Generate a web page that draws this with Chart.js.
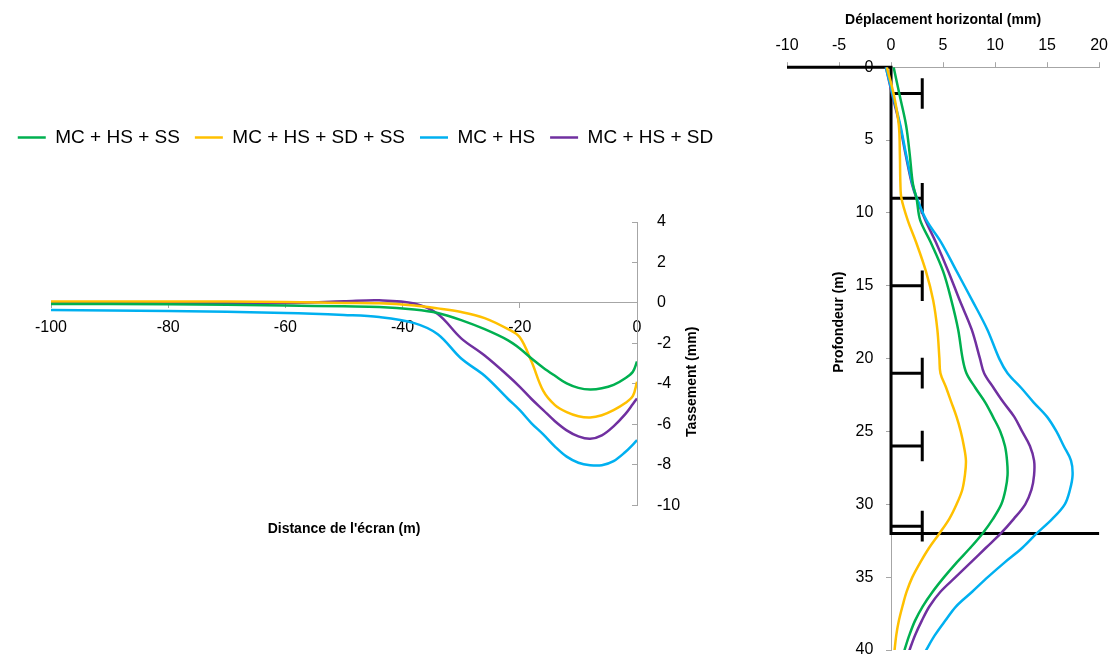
<!DOCTYPE html>
<html>
<head>
<meta charset="utf-8">
<script src="https://cdn.jsdelivr.net/npm/chart.js@4.4.0/dist/chart.umd.min.js"></script>
<style>
  body { margin: 0; background: #fff; width: 1115px; height: 657px; overflow: hidden; position: relative; }
  #settle { position: absolute; left: 0; top: 100px; }
  #disp { position: absolute; left: 740px; top: 0; }
</style>
</head>
<body>
<canvas id="settle" width="731" height="460"></canvas>
<canvas id="disp" width="375" height="657"></canvas>
<script>
'use strict';

Chart.defaults.font.family = '"Liberation Sans", Arial, sans-serif';
Chart.defaults.color = '#000';

let seriesNames = ['MC + HS + SS', 'MC + HS + SD + SS', 'MC + HS', 'MC + HS + SD'];
let seriesColors = ['#00B050', '#FFC000', '#00B0F0', '#7030A0'];
let axisColor = '#a6a6a6';

// settlement behind the wall (left chart)
let distance   = [-100, -80, -60, -50, -44, -38, -34, -30, -26, -22, -20, -18, -16, -14, -12, -10, -8, -6, -4, -2, -0.7, 0];
let settleSS   = [-0.05, -0.07, -0.13, -0.17, -0.2, -0.33, -0.5, -0.85, -1.3, -1.85, -2.25, -2.75, -3.2, -3.6, -3.98, -4.2, -4.28, -4.22, -4.05, -3.72, -3.4, -2.9];
let settleSDSS = [0.07, 0.07, 0.05, 0.0, -0.02, -0.13, -0.27, -0.45, -0.75, -1.3, -1.7, -2.9, -4.35, -5.05, -5.4, -5.6, -5.66, -5.55, -5.3, -4.95, -4.6, -3.9];
let settleHS   = [-0.35, -0.4, -0.5, -0.6, -0.7, -1.0, -1.55, -2.75, -3.6, -4.75, -5.3, -5.95, -6.5, -7.1, -7.6, -7.9, -8.02, -8.02, -7.82, -7.37, -7.0, -6.78];
let settleSD   = [-0.03, -0.02, 0.0, 0.08, 0.13, -0.03, -0.55, -1.75, -2.6, -3.6, -4.15, -4.75, -5.3, -5.85, -6.3, -6.6, -6.72, -6.55, -6.1, -5.5, -5.0, -4.72];

// horizontal displacement of the wall (right chart)
let depth    = [0, 2, 4, 6, 8, 9, 10.5, 12, 14, 16, 18, 20, 21, 22, 23, 24, 25, 26, 27, 28, 29, 30, 31, 32, 33, 34, 35, 36, 37, 38, 39, 40, 41];
let dispSS   = [0.25, 0.85, 1.45, 1.8, 2.1, 2.45, 2.8, 3.8, 5.0, 5.8, 6.45, 6.88, 7.25, 8.1, 9.05, 9.8, 10.5, 10.95, 11.15, 11.2, 11.0, 10.6, 9.8, 8.8, 7.6, 6.3, 5.1, 4.0, 3.05, 2.3, 1.75, 1.3, 0.9];
let dispSDSS = [-0.4, 0.3, 0.75, 0.85, 0.9, 1.0, 1.6, 2.4, 3.35, 4.05, 4.45, 4.65, 4.75, 5.3, 5.8, 6.3, 6.7, 7.0, 7.2, 7.1, 6.85, 6.3, 5.6, 4.65, 3.65, 2.8, 2.05, 1.5, 1.1, 0.75, 0.5, 0.34, 0.2];
let dispHS   = [-0.5, 0.2, 0.9, 1.45, 2.05, 2.5, 3.4, 4.8, 6.3, 7.8, 9.25, 10.4, 11.2, 12.5, 13.7, 15.0, 15.9, 16.6, 17.3, 17.45, 17.2, 16.7, 15.5, 14.0, 12.6, 10.9, 9.3, 7.8, 6.26, 5.2, 4.2, 3.38, 2.6];
let dispSD   = [-0.5, 0.15, 0.85, 1.4, 2.0, 2.45, 3.3, 4.3, 5.5, 6.6, 7.75, 8.55, 8.95, 9.85, 10.8, 11.85, 12.6, 13.35, 13.75, 13.75, 13.5, 12.9, 11.8, 10.55, 9.1, 7.65, 6.2, 4.75, 3.7, 2.95, 2.3, 1.78, 1.3];

// wall, ground surface, excavation bottom and struts
let groundLeft = -10;
let wallBase = 32;
let excavationRight = 20;
let strutDepths = [1.8, 9, 15, 21, 26, 31.5];
let strutLength = 3;
let capHalf = 1.05;

let xTitleLeft = "Distance de l'écran (m)";
let yTitleLeft = 'Tassement (mm)';
let xTitleRight = 'Déplacement horizontal (mm)';
let yTitleRight = 'Profondeur (m)';

function curve(xs, ys, i) {
    return {
        label: seriesNames[i],
        data: xs.map((v, k) => ({ x: v, y: ys[k] })),
        borderColor: seriesColors[i],
        backgroundColor: seriesColors[i],
        showLine: true,
        pointRadius: 0,
        borderWidth: 2.5,
        tension: 0.35,
        xAxisID: 'x',
        yAxisID: 'y'
    };
}

function blackLine(points) {
    return {
        data: points,
        borderColor: '#000',
        backgroundColor: '#000',
        showLine: true,
        pointRadius: 0,
        borderWidth: 3,
        tension: 0,
        clip: false,
        xAxisID: 'x',
        yAxisID: 'y'
    };
}

function noPadding(scale) {
    scale.paddingTop = 0;
    scale.paddingBottom = 0;
    scale.paddingLeft = 0;
    scale.paddingRight = 0;
}

// more room between legend and plot
let legendGap = {
    id: 'legendGap',
    beforeInit(chart) {
        let fit = chart.legend.fit;
        chart.legend.fit = function () {
            fit.call(this);
            this.height += 65;
        };
    }
};

function rotatedTitle(id, text, getPos) {
    return {
        id: id,
        afterDraw(chart) {
            let ctx = chart.ctx;
            let p = getPos(chart.scales);
            ctx.save();
            ctx.font = 'bold 14px "Liberation Sans", Arial, sans-serif';
            ctx.fillStyle = '#000';
            ctx.textAlign = 'center';
            ctx.textBaseline = 'middle';
            ctx.translate(p.x, p.y);
            ctx.rotate(-Math.PI / 2);
            ctx.fillText(text, 0, 0);
            ctx.restore();
        }
    };
}

let settleCurves = [settleSS, settleSDSS, settleHS, settleSD].map((s, i) => curve(distance, s, i));

new Chart(document.getElementById('settle'), {
    type: 'scatter',
    data: { datasets: settleCurves },
    options: {
        responsive: false,
        animation: false,
        layout: { padding: { left: 0, right: 0, top: 13, bottom: 18 } },
        plugins: {
            tooltip: { enabled: false },
            legend: {
                position: 'top',
                labels: {
                    usePointStyle: true,
                    pointStyle: 'line',
                    pointStyleWidth: 28,
                    padding: 15,
                    color: '#000',
                    font: { size: 19 }
                }
            }
        },
        scales: {
            x: {
                type: 'linear',
                position: { y: 0 },
                min: -100,
                max: 0,
                ticks: { stepSize: 20, padding: 10, autoSkip: false, font: { size: 16 } },
                grid: { drawOnChartArea: false, tickLength: 5, color: axisColor },
                border: { color: axisColor }
            },
            y: {
                type: 'linear',
                position: 'right',
                min: -10,
                max: 4,
                ticks: { stepSize: 2, padding: 25, autoSkip: false, font: { size: 16 } },
                grid: { drawOnChartArea: false, tickLength: -5, color: axisColor },
                border: { color: axisColor },
                afterFit(scale) { scale.width = 94; }
            },
            x2: {
                type: 'linear',
                position: 'bottom',
                min: -100,
                max: 0,
                ticks: { display: false },
                grid: { display: false, drawTicks: false },
                border: { display: false },
                title: { display: true, text: xTitleLeft, font: { size: 14, weight: 'bold' }, padding: { top: 16, bottom: 4 } }
            },
            // empty left box, only keeps the plot off the left edge
            yPad: {
                type: 'linear',
                position: 'left',
                ticks: { display: false },
                grid: { display: false, drawTicks: false },
                border: { display: false },
                afterFit(scale) { scale.width = 51; }
            }
        }
    },
    plugins: [legendGap, rotatedTitle('settleTitle', yTitleLeft, s => ({ x: s.y.left + 55, y: s.y.getPixelForValue(-3.9) }))]
});

let dispCurves = [dispSS, dispSDSS, dispHS, dispSD].map((s, i) => curve(s, depth, i));

let wallPoints = [
    { x: groundLeft, y: 0 },
    { x: 0, y: 0 },
    { x: 0, y: wallBase },
    { x: excavationRight, y: wallBase }
];
let strutLines = strutDepths.map(d => blackLine([
    { x: 0, y: d },
    { x: strutLength, y: d },
    { x: strutLength, y: d - capHalf },
    { x: strutLength, y: d + capHalf }
]));

new Chart(document.getElementById('disp'), {
    type: 'scatter',
    data: { datasets: dispCurves.concat([blackLine(wallPoints)], strutLines) },
    options: {
        responsive: false,
        animation: false,
        layout: { padding: { left: 47, right: 15, top: 9, bottom: 7 } },
        plugins: {
            tooltip: { enabled: false },
            legend: { display: false }
        },
        scales: {
            x: {
                type: 'linear',
                position: 'top',
                min: -10,
                max: 20,
                ticks: { stepSize: 5, padding: 7, autoSkip: false, font: { size: 16 } },
                grid: { drawOnChartArea: false, tickLength: 5, color: axisColor },
                border: { color: axisColor },
                title: { display: true, text: xTitleRight, font: { size: 14, weight: 'bold', lineHeight: 1 }, padding: { top: 4, bottom: 2 } }
            },
            y: {
                type: 'linear',
                position: { x: 0 },
                min: 0,
                max: 40,
                reverse: true,
                ticks: { stepSize: 5, display: false },
                grid: { drawOnChartArea: false, tickLength: 5, color: axisColor },
                border: { color: axisColor },
                afterFit: noPadding
            },
            // depth labels, set a little left of the wall
            yLab: {
                type: 'linear',
                position: { x: -1.7 },
                min: 0,
                max: 40,
                reverse: true,
                ticks: { stepSize: 5, autoSkip: false, font: { size: 16 } },
                grid: { display: false, drawTicks: false },
                border: { display: false },
                afterFit: noPadding
            }
        }
    },
    plugins: [rotatedTitle('dispTitle', yTitleRight, s => ({ x: s.x.getPixelForValue(-5), y: s.y.getPixelForValue(17.5) }))]
});
</script>
</body>
</html>
